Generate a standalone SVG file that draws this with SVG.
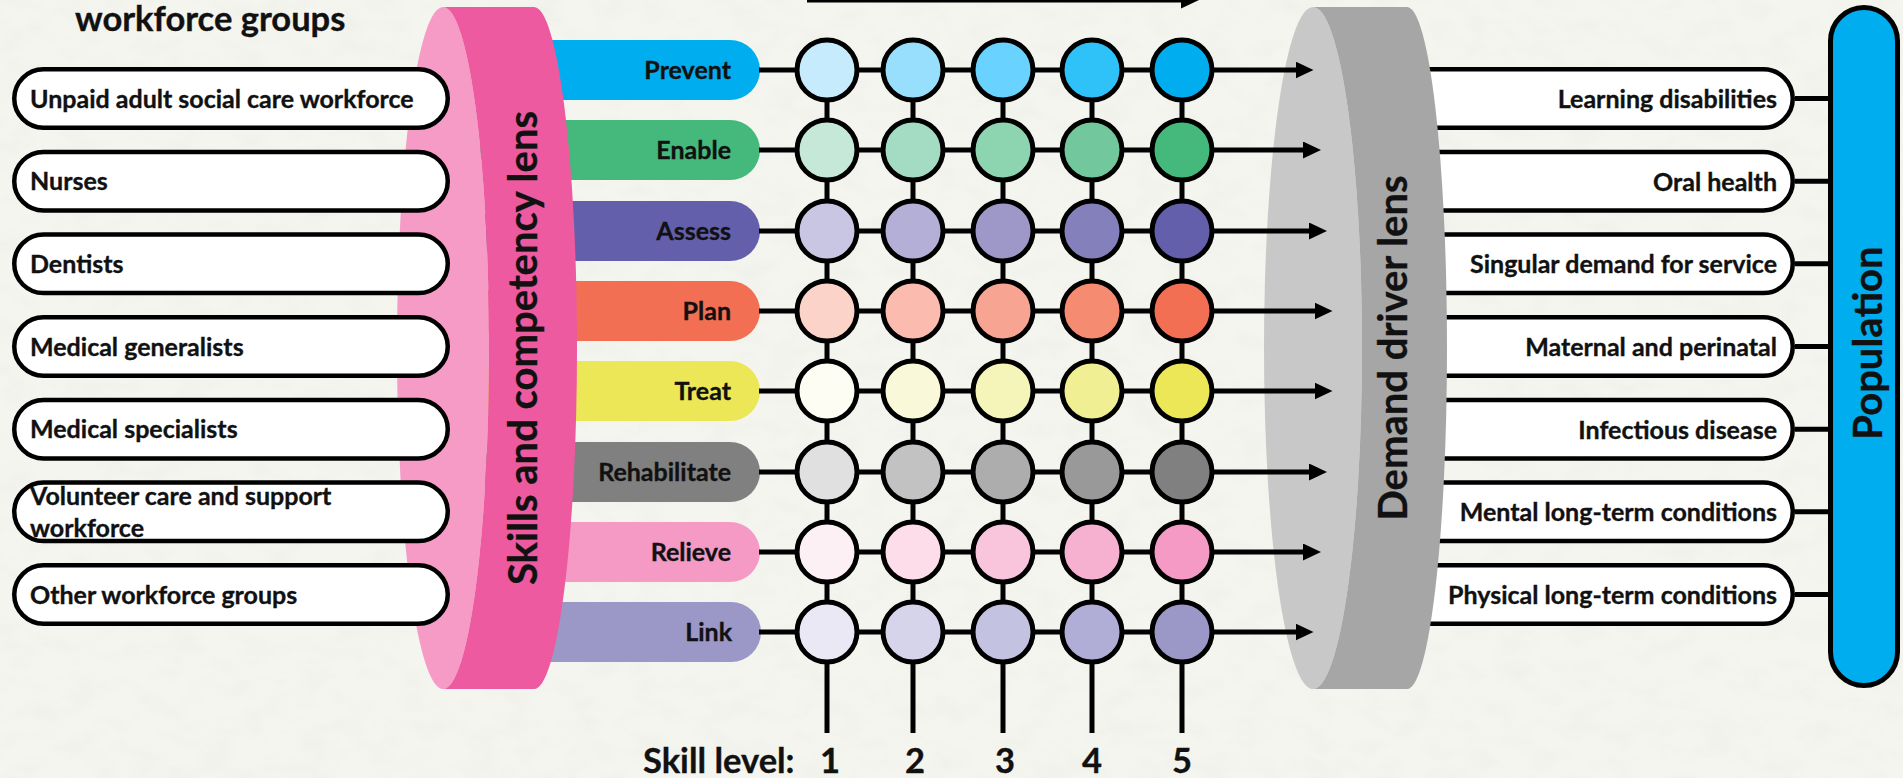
<svg xmlns="http://www.w3.org/2000/svg" width="1903" height="778" viewBox="0 0 1903 778">
  <defs>
    <style>
      .t { font-family: Lato, "Liberation Sans", sans-serif; font-weight: 700; fill: #111; stroke: #111; stroke-width: 0.35; }
      .s { font-size: 25px; }
      .big { font-size: 40px; }
      .mid { font-size: 34.5px; }
      .box { fill: #fff; stroke: #000; stroke-width: 4.5; }
      .ln { stroke: #000; stroke-width: 5; fill: none; }
      .arr { marker-end: url(#ah); }
      .dot { stroke: #000; stroke-width: 5; }
    </style>
    <marker id="ah" markerUnits="userSpaceOnUse" markerWidth="18" markerHeight="17" viewBox="0 0 18 17" refX="1" refY="8.5" orient="auto">
      <path d="M0,0 L18,8.5 L0,17 Z" fill="#000"/>
    </marker>
    <filter id="paper" filterUnits="userSpaceOnUse" x="0" y="0" width="1903" height="778">
      <feTurbulence type="fractalNoise" baseFrequency="0.03 0.05" numOctaves="4" seed="7"/>
      <feColorMatrix type="matrix" values="0 0 0 0 0.78  0 0 0 0 0.78  0 0 0 0 0.74  0.5 0 0 0 -0.2"/>
    </filter>
  </defs>

  <!-- paper background -->
  <rect width="1903" height="778" fill="#f5f5f0"/>
  <rect width="1903" height="778" filter="url(#paper)"/>

  <!-- heading -->
  <text class="t mid" x="75" y="31">workforce groups</text>

  <!-- skill category pills (tucked behind the lens) -->
  <g id="pill-prevent"><rect x="480" y="40" width="280" height="60" rx="30" fill="#00aeef"/><text class="t s" x="731" y="79" text-anchor="end">Prevent</text></g>
  <g id="pill-enable"><rect x="480" y="120" width="280" height="60" rx="30" fill="#45b97c"/><text class="t s" x="731" y="159" text-anchor="end">Enable</text></g>
  <g id="pill-assess"><rect x="480" y="201" width="280" height="60" rx="30" fill="#645faa"/><text class="t s" x="731" y="240" text-anchor="end">Assess</text></g>
  <g id="pill-plan"><rect x="480" y="281" width="280" height="60" rx="30" fill="#f26f53"/><text class="t s" x="731" y="320" text-anchor="end">Plan</text></g>
  <g id="pill-treat"><rect x="480" y="361" width="280" height="60" rx="30" fill="#ebe756"/><text class="t s" x="731" y="400" text-anchor="end">Treat</text></g>
  <g id="pill-rehabilitate"><rect x="480" y="442" width="280" height="60" rx="30" fill="#808080"/><text class="t s" x="731" y="481" text-anchor="end">Rehabilitate</text></g>
  <g id="pill-relieve"><rect x="480" y="522" width="280" height="60" rx="30" fill="#f49ac5"/><text class="t s" x="731" y="561" text-anchor="end">Relieve</text></g>
  <g id="pill-link"><rect x="480" y="602" width="281" height="60" rx="30" fill="#9b97c7"/><text class="t s" x="732" y="641" text-anchor="end">Link</text></g>

  <!-- skills and competency lens -->
  <g id="skills-lens">
    <ellipse cx="443" cy="348" rx="46" ry="341" fill="#f59bc6"/>
    <path d="M443,7 L534,7 A43,341 0 0 1 534,689 L443,689 A46,341 0 0 0 443,7 Z" fill="#ed5a9f"/>
    <text class="t big" transform="translate(537,348) rotate(-90)" text-anchor="middle">Skills and competency lens</text>
  </g>

  <!-- workforce groups -->
  <g id="wf-unpaid"><rect class="box" x="14.25" y="69.25" width="433.5" height="58.5" rx="29.25"/><text class="t s" x="30" y="108">Unpaid adult social care workforce</text></g>
  <g id="wf-nurses"><rect class="box" x="14.25" y="151.95" width="433.5" height="58.5" rx="29.25"/><text class="t s" x="30" y="190">Nurses</text></g>
  <g id="wf-dentists"><rect class="box" x="14.25" y="234.55" width="433.5" height="58.5" rx="29.25"/><text class="t s" x="30" y="273">Dentists</text></g>
  <g id="wf-generalists"><rect class="box" x="14.25" y="317.25" width="433.5" height="58.5" rx="29.25"/><text class="t s" x="30" y="355.5">Medical generalists</text></g>
  <g id="wf-specialists"><rect class="box" x="14.25" y="399.95" width="433.5" height="58.5" rx="29.25"/><text class="t s" x="30" y="438">Medical specialists</text></g>
  <g id="wf-volunteer"><rect class="box" x="14.25" y="482.55" width="433.5" height="58.5" rx="29.25"/><text class="t s" x="30" y="505">Volunteer care and support</text><text class="t s" x="30" y="537">workforce</text></g>
  <g id="wf-other"><rect class="box" x="14.25" y="565.25" width="433.5" height="58.5" rx="29.25"/><text class="t s" x="30" y="603.5">Other workforce groups</text></g>

  <!-- demand drivers (tucked behind the lens) -->
  <g id="dd-learning"><rect class="box" x="1380" y="69.25" width="412.75" height="58.5" rx="29.25"/><text class="t s" x="1777" y="108" text-anchor="end">Learning disabilities</text></g>
  <g id="dd-oral"><rect class="box" x="1380" y="151.95" width="412.75" height="58.5" rx="29.25"/><text class="t s" x="1777" y="190.5" text-anchor="end">Oral health</text></g>
  <g id="dd-singular"><rect class="box" x="1380" y="234.55" width="412.75" height="58.5" rx="29.25"/><text class="t s" x="1777" y="273" text-anchor="end">Singular demand for service</text></g>
  <g id="dd-maternal"><rect class="box" x="1380" y="317.25" width="412.75" height="58.5" rx="29.25"/><text class="t s" x="1777" y="355.5" text-anchor="end">Maternal and perinatal</text></g>
  <g id="dd-infectious"><rect class="box" x="1380" y="399.95" width="412.75" height="58.5" rx="29.25"/><text class="t s" x="1777" y="438.5" text-anchor="end">Infectious disease</text></g>
  <g id="dd-mental"><rect class="box" x="1380" y="482.55" width="412.75" height="58.5" rx="29.25"/><text class="t s" x="1777" y="521" text-anchor="end">Mental long-term conditions</text></g>
  <g id="dd-physical"><rect class="box" x="1380" y="565.25" width="412.75" height="58.5" rx="29.25"/><text class="t s" x="1777" y="603.5" text-anchor="end">Physical long-term conditions</text></g>

  <!-- demand driver lens -->
  <g id="demand-lens">
    <ellipse cx="1313" cy="348" rx="49" ry="341" fill="#c8c8c8"/>
    <path d="M1313,7 L1407,7 A40,341 0 0 1 1407,689 L1313,689 A49,341 0 0 0 1313,7 Z" fill="#a6a6a6"/>
    <text class="t big" transform="translate(1407,348) rotate(-90)" text-anchor="middle">Demand driver lens</text>
  </g>

  <!-- connectors -->
  <g id="connectors">
    <path class="ln arr" d="M807,0 H1182"/>
    <path class="ln" d="M827,70 V733 M913,70 V733 M1003,70 V733 M1092,70 V733 M1182,70 V733"/>
    <path class="ln arr" d="M759,70 H1296.5"/>
    <path class="ln arr" d="M759,150 H1304"/>
    <path class="ln arr" d="M759,231 H1310"/>
    <path class="ln arr" d="M759,311 H1315.5"/>
    <path class="ln arr" d="M759,391 H1315.5"/>
    <path class="ln arr" d="M759,472 H1310"/>
    <path class="ln arr" d="M759,552 H1304"/>
    <path class="ln arr" d="M759,632 H1296.5"/>
    <path class="ln" d="M1795,98.5 H1831 M1795,181.2 H1831 M1795,263.8 H1831 M1795,346.5 H1831 M1795,429.2 H1831 M1795,511.8 H1831 M1795,594.5 H1831"/>
  </g>

  <!-- skill level grid -->
  <g id="grid-prevent" class="dot">
    <circle cx="827" cy="70" r="30" fill="#c5ebfc"/><circle cx="913" cy="70" r="30" fill="#97dffd"/><circle cx="1003" cy="70" r="30" fill="#6ad2fe"/><circle cx="1092" cy="70" r="30" fill="#2ec2f8"/><circle cx="1182" cy="70" r="30" fill="#00aeef"/>
  </g>
  <g id="grid-enable" class="dot">
    <circle cx="827" cy="150" r="30" fill="#c5e8d8"/><circle cx="913" cy="150" r="30" fill="#a3dcc2"/><circle cx="1003" cy="150" r="30" fill="#8dd4b0"/><circle cx="1092" cy="150" r="30" fill="#72c79c"/><circle cx="1182" cy="150" r="30" fill="#45b97c"/>
  </g>
  <g id="grid-assess" class="dot">
    <circle cx="827" cy="231" r="30" fill="#c9c6e3"/><circle cx="913" cy="231" r="30" fill="#b3afd6"/><circle cx="1003" cy="231" r="30" fill="#9d98c8"/><circle cx="1092" cy="231" r="30" fill="#8480bb"/><circle cx="1182" cy="231" r="30" fill="#645faa"/>
  </g>
  <g id="grid-plan" class="dot">
    <circle cx="827" cy="311" r="30" fill="#fcd3c8"/><circle cx="913" cy="311" r="30" fill="#fbbcaf"/><circle cx="1003" cy="311" r="30" fill="#f7a592"/><circle cx="1092" cy="311" r="30" fill="#f58b71"/><circle cx="1182" cy="311" r="30" fill="#f26f53"/>
  </g>
  <g id="grid-treat" class="dot">
    <circle cx="827" cy="391" r="30" fill="#fdfdf3"/><circle cx="913" cy="391" r="30" fill="#f9f8d8"/><circle cx="1003" cy="391" r="30" fill="#f6f5b9"/><circle cx="1092" cy="391" r="30" fill="#f1ef93"/><circle cx="1182" cy="391" r="30" fill="#ebe756"/>
  </g>
  <g id="grid-rehabilitate" class="dot">
    <circle cx="827" cy="472" r="30" fill="#e0e0e0"/><circle cx="913" cy="472" r="30" fill="#c2c2c2"/><circle cx="1003" cy="472" r="30" fill="#adadad"/><circle cx="1092" cy="472" r="30" fill="#999999"/><circle cx="1182" cy="472" r="30" fill="#808080"/>
  </g>
  <g id="grid-relieve" class="dot">
    <circle cx="827" cy="552" r="30" fill="#fdf0f5"/><circle cx="913" cy="552" r="30" fill="#fcdde9"/><circle cx="1003" cy="552" r="30" fill="#f8c5dc"/><circle cx="1092" cy="552" r="30" fill="#f6b1d1"/><circle cx="1182" cy="552" r="30" fill="#f49ac5"/>
  </g>
  <g id="grid-link" class="dot">
    <circle cx="827" cy="632" r="30" fill="#e9e8f4"/><circle cx="913" cy="632" r="30" fill="#d6d4eb"/><circle cx="1003" cy="632" r="30" fill="#c4c2e1"/><circle cx="1092" cy="632" r="30" fill="#b0add6"/><circle cx="1182" cy="632" r="30" fill="#9b97c7"/>
  </g>

  <!-- population -->
  <g id="population">
    <rect x="1830.5" y="7.5" width="67" height="678" rx="33.5" fill="#00aeef" stroke="#000" stroke-width="5"/>
    <text class="t big" transform="translate(1882,343) rotate(-90)" text-anchor="middle">Population</text>
  </g>

  <!-- skill level axis -->
  <g id="skill-level">
    <text class="t mid" x="643" y="773">Skill level:</text>
    <text class="t mid" x="830" y="773" text-anchor="middle">1</text>
    <text class="t mid" x="915" y="773" text-anchor="middle">2</text>
    <text class="t mid" x="1005" y="773" text-anchor="middle">3</text>
    <text class="t mid" x="1092" y="773" text-anchor="middle">4</text>
    <text class="t mid" x="1182" y="773" text-anchor="middle">5</text>
  </g>
</svg>
